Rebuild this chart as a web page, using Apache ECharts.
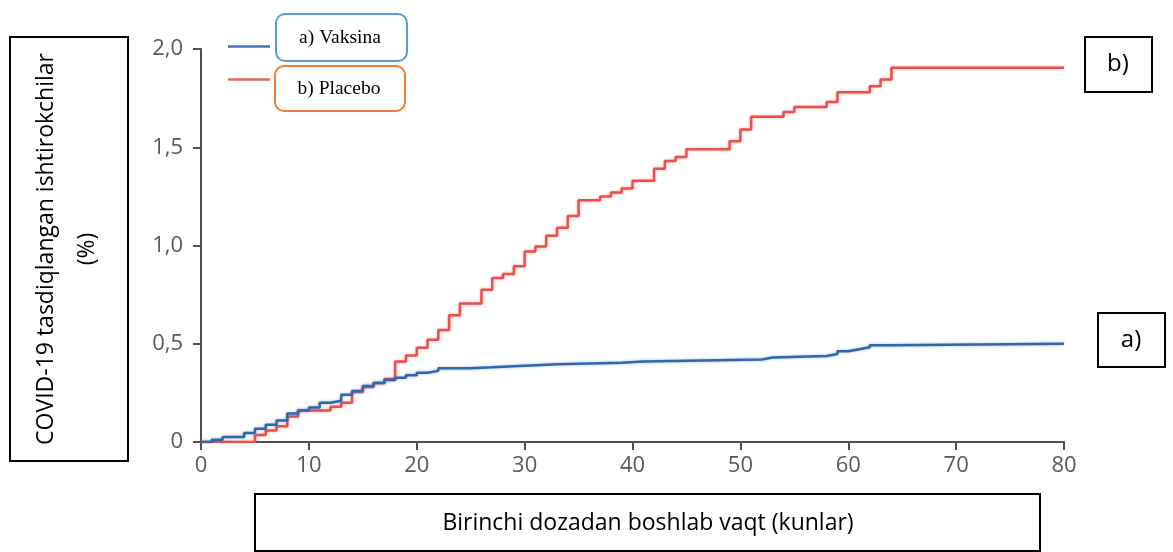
<!DOCTYPE html>
<html>
<head>
<meta charset="utf-8">
<script src="https://cdn.jsdelivr.net/npm/echarts@6/dist/echarts.min.js"></script>
<style>
  html, body { margin: 0; padding: 0; background: #ffffff; }
  #chart { width: 1173px; height: 552px; }
</style>
</head>
<body>
<div id="chart"></div>
<script>
// Cumulative share of participants with confirmed COVID-19 (%), by day since first dose
const seriesNames = ['a) Vaksina', 'b) Placebo'];

const vaksinaDays   = [0, 1, 2, 4, 5, 6, 7, 8, 9, 10, 11, 12, 13, 14, 15, 16, 17, 18, 19, 20, 21, 22, 25, 27, 30, 33, 39, 41, 52, 53, 58, 59, 60, 61, 62, 64, 80];
const vaksinaValues = [0, 0.012, 0.025, 0.046, 0.068, 0.088, 0.11, 0.145, 0.16, 0.175, 0.2, 0.21, 0.24, 0.26, 0.285, 0.3, 0.315, 0.327, 0.34, 0.352, 0.362, 0.375, 0.38, 0.388, 0.396, 0.403, 0.41, 0.42, 0.43, 0.438, 0.448, 0.462, 0.472, 0.482, 0.493, 0.5, 0.5];

const placeboDays   = [0, 5, 6, 7, 8, 9, 12, 13, 14, 15, 16, 17, 18, 19, 20, 21, 22, 23, 24, 26, 27, 28, 29, 30, 31, 32, 33, 34, 35, 37, 38, 39, 40, 42, 43, 44, 45, 49, 50, 51, 54, 55, 58, 59, 62, 63, 64, 80];
const placeboValues = [0, 0.035, 0.058, 0.08, 0.13, 0.16, 0.18, 0.2, 0.255, 0.28, 0.3, 0.32, 0.41, 0.44, 0.48, 0.52, 0.57, 0.645, 0.705, 0.775, 0.835, 0.855, 0.895, 0.97, 0.995, 1.05, 1.09, 1.15, 1.23, 1.25, 1.27, 1.29, 1.33, 1.39, 1.43, 1.45, 1.49, 1.53, 1.59, 1.655, 1.68, 1.705, 1.73, 1.78, 1.81, 1.845, 1.905, 1.905];

const yTickValues = [0, 0.5, 1, 1.5, 2];
const yTickLabels = ['0', '0,5', '1,0', '1,5', '2,0'];

const yTitleLines = ['COVID-19 tasdiqlangan ishtirokchilar', '(%)'];
const xTitle = 'Birinchi dozadan boshlab vaqt (kunlar)';
const sideTags = ['a)', 'b)'];

const blue = '#2F67AE';
const red = '#E8504B';
const axisGrey = '#505050';
const labelGrey = '#595959';
const tickFont = '"Open Sans", sans-serif';
const boxFont = '"Open Sans", sans-serif';

const zip = (xs, ys) => xs.map((x, i) => [x, ys[i]]);

const chart = echarts.init(document.getElementById('chart'), null, { renderer: 'canvas' });

const boxStroke = { fill: 'none', stroke: '#000000', lineWidth: 2 };

chart.setOption({
  animation: false,
  backgroundColor: '#ffffff',
  grid: { left: 201, right: 109, top: 49, bottom: 110 },
  xAxis: {
    type: 'value',
    min: 0, max: 80, interval: 10,
    splitLine: { show: false },
    axisLine: { show: true, lineStyle: { color: axisGrey, width: 2 } },
    axisTick: { show: true, length: 8, lineStyle: { color: axisGrey, width: 2 } },
    axisLabel: { color: labelGrey, fontSize: 22, fontFamily: tickFont, margin: 13 }
  },
  yAxis: {
    type: 'value',
    min: 0, max: 2, interval: 0.5,
    splitLine: { show: false },
    axisLine: { show: true, lineStyle: { color: axisGrey, width: 2 } },
    axisTick: { show: true, length: 8, lineStyle: { color: axisGrey, width: 2 } },
    axisLabel: {
      color: labelGrey, fontSize: 22, fontFamily: tickFont, margin: 18,
      formatter: v => yTickLabels[yTickValues.indexOf(v)]
    }
  },
  series: [
    {
      name: seriesNames[0], type: 'line', step: 'end', symbol: 'none',
      data: zip(vaksinaDays, vaksinaValues),
      lineStyle: { color: blue, width: 2.5, shadowColor: 'rgba(47,103,174,0.45)', shadowBlur: 3 },
      itemStyle: { color: blue },
      z: 3
    },
    {
      name: seriesNames[1], type: 'line', step: 'end', symbol: 'none',
      data: zip(placeboDays, placeboValues),
      lineStyle: { color: red, width: 2.5, shadowColor: 'rgba(232,80,75,0.45)', shadowBlur: 3 },
      itemStyle: { color: red },
      z: 2
    }
  ],
  graphic: [
    // y-axis title box
    { type: 'rect', shape: { x: 10, y: 37, width: 118, height: 424 }, style: boxStroke },
    { type: 'text', x: 46, y: 249, rotation: Math.PI / 2,
      style: { text: yTitleLines[0], font: '23px ' + boxFont, fill: '#000', align: 'center', verticalAlign: 'middle' } },
    { type: 'text', x: 87, y: 249, rotation: Math.PI / 2,
      style: { text: yTitleLines[1], font: '23px ' + boxFont, fill: '#000', align: 'center', verticalAlign: 'middle' } },
    // x-axis title box
    { type: 'rect', shape: { x: 255, y: 494, width: 785, height: 57 }, style: boxStroke },
    { type: 'text', x: 648, y: 523,
      style: { text: xTitle, font: '23px ' + boxFont, fill: '#000', align: 'center', verticalAlign: 'middle' } },
    // curve tags at the right
    { type: 'rect', shape: { x: 1085, y: 37, width: 67, height: 55 }, style: boxStroke },
    { type: 'text', x: 1118, y: 64,
      style: { text: sideTags[1], font: '24px ' + boxFont, fill: '#000', align: 'center', verticalAlign: 'middle' } },
    { type: 'rect', shape: { x: 1098, y: 313, width: 67, height: 54 }, style: boxStroke },
    { type: 'text', x: 1131, y: 340,
      style: { text: sideTags[0], font: '24px ' + boxFont, fill: '#000', align: 'center', verticalAlign: 'middle' } },
    // legend
    { type: 'line', shape: { x1: 228, y1: 46.5, x2: 270, y2: 46.5 }, style: { stroke: '#3F76B8', lineWidth: 2.5 } },
    { type: 'rect', shape: { x: 276, y: 14, width: 131, height: 47, r: 9 }, style: { fill: '#fff', stroke: '#5B9BD5', lineWidth: 2 } },
    { type: 'text', x: 340, y: 38,
      style: { text: seriesNames[0], font: '19.5px "Liberation Serif", serif', fill: '#000', align: 'center', verticalAlign: 'middle' } },
    { type: 'line', shape: { x1: 228, y1: 79.5, x2: 270, y2: 79.5 }, style: { stroke: '#E06666', lineWidth: 2.5 } },
    { type: 'rect', shape: { x: 275, y: 66, width: 130, height: 45, r: 9 }, style: { fill: '#fff', stroke: '#ED7D31', lineWidth: 2 } },
    { type: 'text', x: 339, y: 89,
      style: { text: seriesNames[1], font: '19.5px "Liberation Serif", serif', fill: '#000', align: 'center', verticalAlign: 'middle' } }
  ]
});
</script>
</body>
</html>
